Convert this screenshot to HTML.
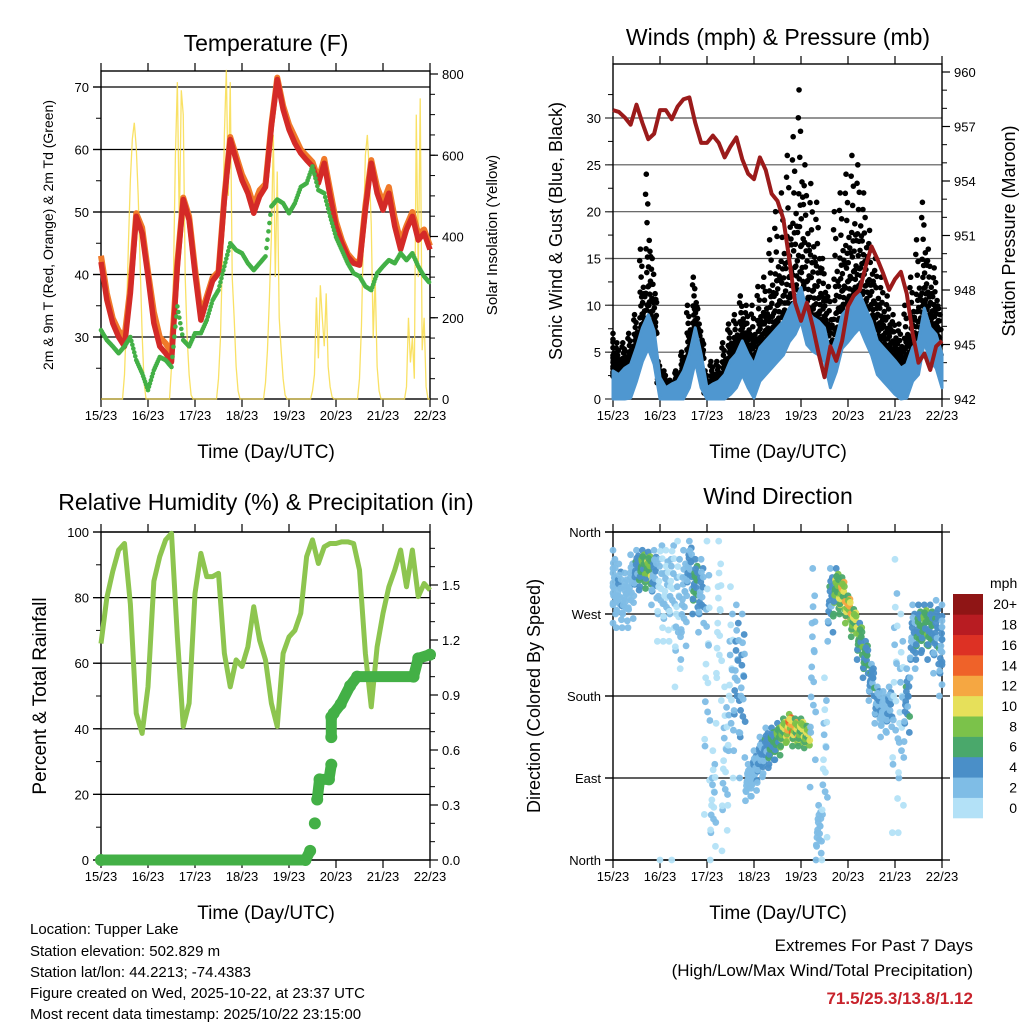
<!DOCTYPE html>
<html><head><meta charset="utf-8"><style>
html,body{margin:0;padding:0;background:#fff;}
svg{display:block;font-family:"Liberation Sans",Arial,sans-serif;}
</style></head><body>
<svg id="s" width="1024" height="1024" viewBox="0 0 1024 1024" xmlns="http://www.w3.org/2000/svg">
<g>
<text x="266" y="51" font-size="23" text-anchor="middle">Temperature (F)</text>
<text x="778" y="45" font-size="23" text-anchor="middle">Winds (mph) &amp; Pressure (mb)</text>
<text x="266" y="510" font-size="23" text-anchor="middle">Relative Humidity (%) &amp; Precipitation (in)</text>
<text x="778" y="504" font-size="23" text-anchor="middle">Wind Direction</text>
<text x="266" y="458" font-size="19" text-anchor="middle">Time (Day/UTC)</text>
<text x="778" y="458" font-size="19" text-anchor="middle">Time (Day/UTC)</text>
<text x="266" y="919" font-size="19" text-anchor="middle">Time (Day/UTC)</text>
<text x="778" y="919" font-size="19" text-anchor="middle">Time (Day/UTC)</text>
<text transform="translate(53,235) rotate(-90)" font-size="14" text-anchor="middle">2m &amp; 9m T (Red, Orange) &amp; 2m Td (Green)</text>
<text transform="translate(497,235) rotate(-90)" font-size="15" text-anchor="middle">Solar Insolation (Yellow)</text>
<text transform="translate(562,231) rotate(-90)" font-size="18" text-anchor="middle">Sonic Wind &amp; Gust (Blue, Black)</text>
<text transform="translate(1015,231) rotate(-90)" font-size="18" text-anchor="middle">Station Pressure (Maroon)</text>
<text transform="translate(46,696) rotate(-90)" font-size="19" text-anchor="middle">Percent &amp; Total Rainfall</text>
<text transform="translate(540,696) rotate(-90)" font-size="18" text-anchor="middle">Direction (Colored By Speed)</text>
<g font-size="15">
<text x="30" y="934">Location: Tupper Lake</text>
<text x="30" y="956">Station elevation: 502.829 m</text>
<text x="30" y="977">Station lat/lon: 44.2213; -74.4383</text>
<text x="30" y="998">Figure created on Wed, 2025-10-22, at 23:37 UTC</text>
<text x="30" y="1019">Most recent data timestamp: 2025/10/22 23:15:00</text>
</g>
<text x="973" y="951" font-size="17" text-anchor="end">Extremes For Past 7 Days</text>
<text x="973" y="976" font-size="17" text-anchor="end">(High/Low/Max Wind/Total Precipitation)</text>
<text x="973" y="1004" font-size="17" font-weight="bold" fill="#c8232c" text-anchor="end">71.5/25.3/13.8/1.12</text>
</g>
</svg>
<script>
// ---------- data (3-hourly, day offset = index*0.125 from 15/23) ----------
const dayLabels = ["15/23","16/23","17/23","18/23","19/23","20/23","21/23","22/23"];
const tempRed = [42,35.9,32.2,30,28.5,37,49.3,46.6,39.7,32.2,28.5,27.4,26,41.3,52,48.7,40.2,32.7,35.9,39,40.2,52,61.6,58.3,55.1,53,49.8,52.5,54,63.7,71.2,66.4,63.2,61,59.4,58.3,57.3,54.6,57.8,52.5,47.7,45,42.9,41.8,41.5,50.3,57.8,53,50.3,53,47.7,44,47.2,49.3,45.5,46.6,44];
const tempOrange = [43,37,33,31,30,38,49.8,47.5,40.5,34,30,29,27.5,42,52.3,49.3,41,33.5,36.5,39.5,40.5,52.5,62,59,56,54,51,53.5,54.5,64,71.5,67,64,62,60,59,58,55.2,58.5,53.5,48.5,45.5,43.3,42.2,41.8,51,58.3,54,51.5,54,49,45.2,47.8,50,46.5,47.2,44.6];
const tempDew = [31.1,29.5,28.5,27.4,28.5,30,26.3,24.2,21.5,24.7,26.8,26.3,25.2,34.9,29.5,28.5,30.6,30.6,32.7,35.9,37.5,41.3,45,43.9,43.4,41.8,40.7,41.8,42.9,50.9,52,51.4,49.8,51.4,54,54.6,57.3,53.5,53,49.3,46,43.9,41.8,40.2,39.7,38.1,37.5,40.2,41.3,42.3,41.8,43.4,42.3,43.4,41.3,39.7,38.6];
// hourly solar insolation (W/m2), hour 0 = 15/23
const solar = [0,0,0,0,0,0,0,0,0,0,0,0,60,200,380,540,640,680,620,500,330,160,40,0,
0,0,0,0,0,0,0,0,0,0,0,0,80,300,600,780,420,760,700,300,150,60,10,0,
0,0,0,0,0,0,0,0,0,0,0,0,50,150,350,650,810,500,780,300,200,80,20,0,
0,0,0,0,0,0,0,0,0,0,0,0,40,120,250,400,650,300,560,200,120,50,10,0,
0,0,0,0,0,0,0,0,0,0,0,0,20,60,250,100,280,200,130,260,80,30,5,0,
0,0,0,0,0,0,0,0,0,0,0,0,50,180,400,600,650,560,430,150,300,80,20,0,
0,0,0,0,0,0,0,0,0,0,0,0,30,200,90,150,50,700,300,740,120,200,30,0,0];
const windMean = [2.4,2,2.7,3.1,4.9,7,8.4,6.7,1.7,0.6,1,1.3,2.4,4.2,7,4.2,0.6,1,1.3,2,3.5,4.2,5.6,4.2,3.1,4.9,5.6,6.3,7,7.7,9.1,9.9,11.3,8.8,8.1,7.7,7,4.2,5.9,8.4,9.1,9.9,10.6,9.1,7.7,5.6,4.9,4.2,3.5,2.7,3.1,4.9,5.6,9.1,7,6.3,4.2];
const gustMax = [7,6,6,7,9,16,24,15,4,3,2,3,5,10,13,8,3,4,4,6,8,9,11,10,10,12,13,17,20,22,26,28,33,25,23,21,15,12,20,22,24,26,25,22,18,15,13,11,9,8,10,13,17,21,16,14,9];
const pressure = [957.9,957.8,957.5,957.1,958.2,957.2,956.3,956.6,957.9,957.9,957.4,958.1,958.5,958.6,957.2,956.1,956.1,956.5,956.1,955.3,955.9,956.4,955.2,954.4,954.1,955.3,954.6,953.3,952.9,951.9,949.7,947.3,946.3,947.3,946,944.5,943.2,944.9,944.1,945.2,947.1,947.7,948,949.3,950.4,949.7,948.9,948,948.6,949,947.8,945.6,944,944.5,943.6,944.9,945.2];
const rh = [66,80,88,94.5,96.5,78,44.7,38.6,52.8,85,92.5,97.6,99.6,68,40.7,47.8,81.3,93.5,86.4,86.4,87.4,63,52.8,61,59,65,77.2,67,61,47.8,40.7,63,68,70,75.2,92.5,97.6,90.4,95.5,96.5,96.5,97,97,96.5,88.4,63,46.7,65,75.2,83.3,88.4,94.5,83.3,94.5,80.3,84.3,82.3];
const precipDay = [0,4.35,4.45,4.55,4.6,4.65,4.85,4.9,4.9,4.9,4.95,5.1,5.3,5.45,6.65,6.75,7.0];
const precipIn = [0,0,0.05,0.2,0.33,0.44,0.44,0.52,0.67,0.78,0.8,0.85,0.95,1.0,1.0,1.1,1.12];
const dirMean = [300,290,285,295,315,320,318,310,300,290,300,270,280,320,300,290,200,60,250,100,180,200,180,85,95,110,120,125,130,140,145,140,140,135,200,30,100,280,295,290,275,260,240,220,195,170,160,165,180,150,170,240,250,255,250,245,230];
const dirSpread = [40,35,30,40,25,20,20,30,60,50,60,80,60,30,30,40,150,60,100,90,120,80,90,20,25,25,25,20,20,15,15,15,15,12,120,30,100,40,25,20,15,15,20,20,20,20,25,25,150,120,40,40,30,25,30,40,50];
const dirSpeed = [2,2.5,2,1.5,4,6,7,3,1,1,1,1,2,3,5,3,1,1,0.5,1,1,3,3,2,2.5,3,4,5,6,8,11,9,8,8,2,2,1,4,7,9,10,8,6,5,4,3,2,3,1,1,4,3,5,6,5,4,3];
const speedBins = ["0","2","4","6","8","10","12","14","16","18","20+"];
const speedColors = ["#b3e1f7","#7fbde6","#4a8fc8","#4aa86b","#7bc24a","#e6e05a","#f5a742","#ef6229","#dd3124","#b81c22","#8f1515"];
// fixed dot layout patterns (for drawing clouds of points within each bin)
const gustPattern = [0.05,0.9,0.3,0.6,1,0.15,0.45,0.75,0.2,0.55,0.85,0.35];
const dirPattern = [-1,-0.5,0,0.5,1,-0.25,0.25,0.75,-0.75];
const spdPattern = [0.2,0.8,0.5,1,0.1,0.6,0.35,0.9,0.4];

const NS="http://www.w3.org/2000/svg";
const svg=document.getElementById('s');
function mk(tag,attrs,parent){const e=document.createElementNS(NS,tag);for(const k in attrs)e.setAttribute(k,attrs[k]);(parent||svg).appendChild(e);return e;}
function lin(d0,d1,r0,r1){return v=>r0+(v-d0)*(r1-r0)/(d1-d0);}

function frame(p,name){
  const g=mk('g',{});
  
  
  for(let i=0;i<=7;i++){
    const x=p.x(i);
    mk('line',{x1:x,x2:x,y1:p.y0-8,y2:p.y0,stroke:'#000','stroke-width':1.2},g);
    mk('line',{x1:x,x2:x,y1:p.y1,y2:p.y1+8,stroke:'#000','stroke-width':1.2},g);
    const t=mk('text',{x:x,y:p.y1+21,'font-size':13,'text-anchor':'middle'},g);
    t.textContent=dayLabels[i];
    
    
  }
  return g;
}
function yAxis(g,p,scale,ticks,minor,side,fmt,grid){
  const xe= side==='l'?p.x0:p.x1;
  const dir= side==='l'?-1:1;
  minor.forEach(v=>{const y=scale(v);mk('line',{x1:xe,x2:xe+dir*5,y1:y,y2:y,stroke:'#000','stroke-width':1},g);});
  ticks.forEach((v,i)=>{
    const y=scale(v);
    mk('line',{x1:xe,x2:xe+dir*8,y1:y,y2:y,stroke:'#000','stroke-width':1.2},g);
    if(grid) mk('line',{x1:p.x0-8,x2:p.x1,y1:y,y2:y,stroke:grid,'stroke-width':1.2},g);
    const t=mk('text',{x:xe+dir*12,y:y+5,'font-size':13,'text-anchor':side==='l'?'end':'start'},g);
    t.textContent=fmt(v,i);
    
    
  });
}
function border(p,g){mk('rect',{x:p.x0,y:p.y0,width:p.x1-p.x0,height:p.y1-p.y0,fill:'none',stroke:'#000','stroke-width':1.4},g);}
function rng(a,b,s){const r=[];for(let v=a;v<=b+1e-9;v+=s)r.push(+v.toFixed(4));return r;}
const tIdx=i=>i*0.125;

// ================= Temperature panel =================
{
const p={x0:101,x1:430,y0:71,y1:399};p.x=lin(0,7,p.x0,p.x1);
const yT=lin(30,70,337,87), yS=lin(0,800,399,74);
const g=frame(p,'temperature');
yAxis(g,p,yT,[30,40,50,60,70],rng(25,70,5),'l',v=>v,'#000');
yAxis(g,p,yS,[0,200,400,600,800],rng(0,800,50),'r',v=>v,null);
const plot=mk('g',{});


const sp=solar.map((v,i)=>p.x(i/24)+','+yS(v)).join(' ');
const sl=mk('polyline',{points:sp,fill:'none',stroke:'#f8dc4a','stroke-width':1.3,'stroke-opacity':0.85},plot);


const ol=mk('polyline',{points:tempOrange.map((v,i)=>p.x(tIdx(i))+','+yT(v)).join(' '),fill:'none',stroke:'#f07a2a','stroke-width':6,'stroke-linejoin':'round'},plot);


const rl=mk('polyline',{points:tempRed.map((v,i)=>p.x(tIdx(i))+','+yT(v)).join(' '),fill:'none',stroke:'#d42a27','stroke-width':5.5,'stroke-linejoin':'round'},plot);


const dg=mk('g',{fill:'#43b046'},plot);


for(let i=0;i<tempDew.length-1;i++){for(let k=0;k<6;k++){const f=k/6;const v=tempDew[i]+(tempDew[i+1]-tempDew[i])*f;
  const c=mk('circle',{cx:p.x(tIdx(i)+f*0.125),cy:yT(v),r:2.3},dg);
  
  }}
border(p,g);
}

// ================= Winds panel =================
{
const p={x0:613,x1:942,y0:64,y1:399};p.x=lin(0,7,p.x0,p.x1);
const yW=lin(0,30,399,118), yP=lin(942,960,399,72);
const g=frame(p,'winds');
yAxis(g,p,yW,[0,5,10,15,20,25,30],rng(0,32.5,2.5),'l',v=>v,'#555');
yAxis(g,p,yP,[942,945,948,951,954,957,960],rng(942,960,1),'r',v=>v,null);
const plot=mk('g',{});


const gg=mk('g',{fill:'#000'},plot);


for(let i=0;i<gustMax.length;i++){
  const lo=windMean[i], hi=gustMax[i];
  for(let k=0;k<24;k++){
    if(i===gustMax.length-1 && k>8) continue;
    const f= k<12 ? gustPattern[k] : gustPattern[(k*7)%12]*0.65;
    const v=lo+(hi-lo)*Math.pow(f,1.4);
    const c=mk('circle',{cx:p.x(Math.max(0,tIdx(i)+(k/24-0.5)*0.125)),cy:yW(v),r:2.8},gg);
    
    
  }
}
const top=windMean.map((v,i)=>p.x(tIdx(i))+','+yW(v+0.6));
const bot=windMean.map((v,i)=>p.x(tIdx(i))+','+yW(Math.max(0,v-3))).reverse();
const band=mk('polygon',{points:top.concat(bot).join(' '),fill:'#4f97d0',stroke:'#4f97d0','stroke-width':3,'stroke-linejoin':'round'},plot);


const pl=mk('polyline',{points:pressure.map((v,i)=>p.x(tIdx(i))+','+yP(v)).join(' '),fill:'none',stroke:'#9b1b1b','stroke-width':4,'stroke-linejoin':'round'},plot);


border(p,g);
}

// ================= RH panel =================
{
const p={x0:101,x1:430,y0:532,y1:860};p.x=lin(0,7,p.x0,p.x1);
const yR=lin(0,100,860,532), yPr=lin(0,1.5,860,585);
const g=frame(p,'humidity');
yAxis(g,p,yR,[0,20,40,60,80,100],rng(0,100,10),'l',v=>v,'#000');
yAxis(g,p,yPr,[0,0.3,0.6,0.9,1.2,1.5],rng(0,1.7,0.1),'r',v=>v.toFixed(1),null);
const plot=mk('g',{});


const rl=mk('polyline',{points:rh.map((v,i)=>p.x(tIdx(i))+','+yR(v)).join(' '),fill:'none',stroke:'#8dc54f','stroke-width':5,'stroke-linejoin':'round'},plot);


const pg=mk('g',{fill:'#43b046',stroke:'#43b046'},plot);


for(let i=0;i<precipIn.length-1;i++){
  if(Math.abs(precipIn[i+1]-precipIn[i])<0.12){
    const s=mk('line',{x1:p.x(precipDay[i]),y1:yPr(precipIn[i]),x2:p.x(precipDay[i+1]),y2:yPr(precipIn[i+1]),'stroke-width':11,'stroke-linecap':'round'},pg);
    
    
  }
}
precipIn.forEach((v,i)=>{const c=mk('circle',{cx:p.x(precipDay[i]),cy:yPr(v),r:5.5},pg);
  
  });
border(p,g);
}

// ================= Wind direction panel =================
{
const p={x0:613,x1:942,y0:532,y1:860};p.x=lin(0,7,p.x0,p.x1);
const yD=lin(0,360,860,532);
const g=frame(p,'wind-direction');
yAxis(g,p,yD,[0,90,180,270,360],[],'l',(v,i)=>["North","East","South","West","North"][i],'#000');
[0,360].forEach(v=>mk('line',{x1:p.x0-8,x2:p.x1+8,y1:yD(v),y2:yD(v),stroke:'#000','stroke-width':1.2},g));
[90,180,270].forEach(v=>mk('line',{x1:p.x1,x2:p.x1+8,y1:yD(v),y2:yD(v),stroke:'#000','stroke-width':1.2},g));
const plot=mk('g',{});


function col(s){let b=Math.floor(s/2+0.5);if(b>10)b=10;if(b<0)b=0;return speedColors[b];}
for(let i=0;i<dirMean.length;i++){
  for(let pass=0;pass<2;pass++){
  dirPattern.forEach((f,k)=>{
    let d=dirMean[i]+dirSpread[i]*(pass?f*0.55+0.1:f); d=((d%360)+360)%360;
    const s=dirSpeed[i]*(0.6+0.7*spdPattern[(k+pass*4)%9]);
    const c=mk('circle',{cx:p.x(Math.min(7,Math.max(0,tIdx(i)+((k+pass*0.5)/9-0.45)*0.125))),cy:yD(d),r:3.4,fill:col(s),'fill-opacity':0.95},plot);
    
    
  });
  }
}
border(p,g);
const cb=mk('g',{});


const t=mk('text',{x:990,y:588,'font-size':14},cb);t.textContent='mph';


const h=(818-594)/11;
for(let i=0;i<11;i++){
  const yy=818-(i+1)*h;
  const r=mk('rect',{x:953,y:yy,width:30,height:h+0.3,fill:speedColors[i]},cb);
  
  
  const l=mk('text',{x:1017,y:yy+h/2+5,'font-size':14,'text-anchor':'end'},cb);
  l.textContent=speedBins[i];
  
  
}
}
</script>
</body></html>
